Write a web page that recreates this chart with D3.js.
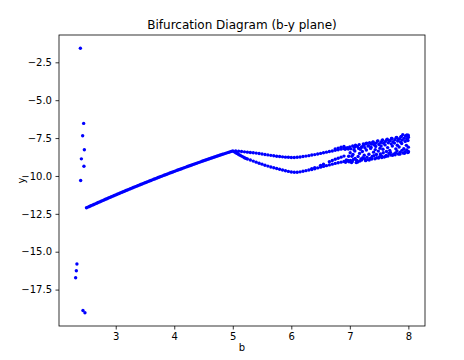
<!DOCTYPE html>
<html><head><meta charset="utf-8">
<script src="https://cdn.jsdelivr.net/npm/d3@7"></script>
<style>
html,body{margin:0;padding:0;background:#fff;}
svg{display:block;font-family:"DejaVu Sans",sans-serif;}
</style></head>
<body>
<svg id="chart" width="464" height="360"></svg>
<script>
// ---- data ----
const titleText = "Bifurcation Diagram (b-y plane)";
const xLabel = "b";
const yLabel = "y";
const xTicks = [3, 4, 5, 6, 7, 8];
const yTicks = [-2.5, -5.0, -7.5, -10.0, -12.5, -15.0, -17.5];

// transient / isolated points near the start
const transientB = [2.396, 2.452, 2.435, 2.464, 2.413, 2.457, 2.401, 2.337, 2.327, 2.315, 2.440, 2.474];
const transientY = [-1.57, -6.53, -7.35, -8.27, -8.87, -9.36, -10.30, -15.81, -16.26, -16.72, -18.88, -19.03];

// single stable branch
const mainB = [2.500,2.525,2.550,2.575,2.600,2.625,2.650,2.675,2.700,2.725,2.750,2.775,2.800,2.825,2.850,2.875,2.900,2.925,2.950,2.975,
 3.000,3.025,3.050,3.075,3.100,3.125,3.150,3.175,3.200,3.225,3.250,3.275,3.300,3.325,3.350,3.375,3.400,3.425,3.450,3.475,
 3.500,3.525,3.550,3.575,3.600,3.625,3.650,3.675,3.700,3.725,3.750,3.775,3.800,3.825,3.850,3.875,3.900,3.925,3.950,3.975,
 4.000,4.025,4.050,4.075,4.100,4.125,4.150,4.175,4.200,4.225,4.250,4.275,4.300,4.325,4.350,4.375,4.400,4.425,4.450,4.475,
 4.500,4.525,4.550,4.575,4.600,4.625,4.650,4.675,4.700,4.725,4.750,4.775,4.800,4.825,4.850,4.875,4.900,4.925,4.950,4.975,5.000];
const mainY = [-12.100,-12.056,-12.013,-11.969,-11.926,-11.883,-11.840,-11.797,-11.754,-11.711,-11.669,-11.626,-11.584,-11.542,-11.500,-11.458,-11.416,-11.374,-11.333,-11.291,
 -11.250,-11.209,-11.168,-11.127,-11.086,-11.045,-11.005,-10.964,-10.924,-10.884,-10.844,-10.804,-10.764,-10.724,-10.685,-10.645,-10.606,-10.567,-10.528,-10.489,
 -10.450,-10.411,-10.373,-10.334,-10.296,-10.258,-10.220,-10.182,-10.144,-10.106,-10.069,-10.031,-9.994,-9.957,-9.920,-9.883,-9.846,-9.809,-9.773,-9.736,
 -9.700,-9.664,-9.628,-9.592,-9.556,-9.520,-9.485,-9.449,-9.414,-9.379,-9.344,-9.309,-9.274,-9.239,-9.205,-9.170,-9.136,-9.102,-9.068,-9.034,
 -9.000,-8.966,-8.933,-8.899,-8.866,-8.833,-8.800,-8.767,-8.734,-8.701,-8.669,-8.636,-8.604,-8.572,-8.540,-8.508,-8.476,-8.444,-8.413,-8.381,-8.350];

// period-2 branches
const splitB = [5.05,5.10,5.15,5.20,5.25,5.30,5.35,5.40,5.45,5.50,5.55,5.60,5.65,5.70,5.75,5.80,5.85,5.90,5.95,6.00,6.05,6.10,6.15,6.20,6.25,6.30,6.35,6.40,6.45,6.50,6.55,6.60,6.65,6.70,6.75,6.80,6.85,6.90];
const upperY = [-8.35,-8.37,-8.39,-8.41,-8.43,-8.45,-8.47,-8.49,-8.52,-8.55,-8.58,-8.61,-8.64,-8.67,-8.70,-8.72,-8.74,-8.76,-8.77,-8.78,-8.78,-8.77,-8.75,-8.72,-8.69,-8.66,-8.62,-8.59,-8.55,-8.51,-8.47,-8.43,-8.39,-8.35,-8.31,-8.27,-8.23,-8.19];
const lowerY = [-8.47,-8.58,-8.69,-8.80,-8.88,-8.95,-9.02,-9.09,-9.16,-9.22,-9.29,-9.35,-9.41,-9.46,-9.51,-9.56,-9.61,-9.66,-9.70,-9.74,-9.76,-9.76,-9.73,-9.69,-9.65,-9.61,-9.57,-9.52,-9.47,-9.42,-9.37,-9.32,-9.27,-9.22,-9.17,-9.13,-9.09,-9.05];

// extra points on the lower branch where it falls steeply
const tipB = [5.025, 5.075, 5.125, 5.175, 5.225];
const tipY = [-8.41, -8.52, -8.63, -8.74, -8.84];

// secondary split points
const split2B = [6.35,6.40,6.50,6.55,6.65,6.70,6.75,6.80,6.85,6.90,6.75,6.80,6.85,6.90];
const split2Y = [-9.52,-9.45,-9.30,-9.22,-9.06,-8.98,-8.90,-8.83,-8.76,-8.69,-8.22,-8.16,-8.10,-8.05];

// chaotic region
const chaosB = [
 6.920,6.933,6.947,6.927,6.940,
 6.960,6.973,6.987,6.967,6.980,
 7.000,7.017,7.006,7.029,7.011,7.035,
 7.049,7.071,7.042,7.061,7.054,
 7.080,7.097,7.086,7.109,7.091,7.115,
 7.129,7.151,7.122,7.141,7.134,
 7.160,7.177,7.166,7.189,7.171,7.195,
 7.209,7.231,7.202,7.221,7.214,
 7.240,7.257,7.246,7.269,7.251,7.275,
 7.289,7.311,7.282,7.301,7.294,
 7.320,7.337,7.326,7.349,7.331,7.355,
 7.369,7.391,7.362,7.381,7.374,
 7.400,7.417,7.406,7.429,7.411,7.435,7.423,
 7.449,7.471,7.442,7.461,7.454,
 7.480,7.497,7.486,7.509,7.491,7.515,
 7.529,7.551,7.522,7.541,7.534,7.546,
 7.560,7.577,7.566,7.589,7.571,
 7.609,7.631,7.602,7.621,7.614,7.626,
 7.640,7.657,7.646,7.669,7.651,7.675,
 7.689,7.711,7.682,7.701,7.694,7.706,
 7.720,7.737,7.726,7.749,7.731,
 7.769,7.791,7.762,7.781,7.774,7.786,
 7.800,7.817,7.806,7.829,7.811,7.835,
 7.849,7.871,7.842,7.861,7.854,7.866,
 7.880,7.897,7.886,7.909,7.891,
 7.929,7.951,7.922,7.941,7.934,7.946,
 7.960,7.977,7.966,7.989,7.971,7.995,
 8.000,7.998,7.993,8.000,7.997,8.000,
 7.905,7.975
];
const chaosY = [
 -8.24,-8.17,-9.02,-9.10,-8.95,
 -8.13,-8.22,-9.07,-8.97,-8.70,
 -8.08,-8.21,-8.47,-9.11,-8.98,-8.70,
 -8.02,-8.27,-9.05,-8.91,-8.58,
 -8.11,-7.97,-8.36,-9.12,-8.84,-8.97,
 -8.05,-8.18,-8.99,-8.72,-9.08,
 -7.93,-8.24,-8.51,-8.88,-9.02,-8.12,
 -8.07,-7.89,-8.95,-8.80,-8.39,
 -7.97,-8.14,-8.63,-8.99,-8.86,-7.86,
 -7.84,-8.03,-8.29,-8.92,-8.76,
 -8.00,-7.81,-8.57,-8.84,-8.95,-8.18,
 -7.90,-7.77,-8.10,-8.71,-8.88,
 -7.76,-7.95,-8.43,-8.86,-8.66,-8.26,-7.88,
 -7.83,-7.70,-8.05,-8.80,-8.58,
 -7.69,-7.92,-8.36,-8.73,-8.82,-8.17,
 -7.79,-7.66,-8.55,-8.68,-8.02,-8.79,
 -7.63,-7.84,-8.24,-8.75,-8.47,
 -7.72,-7.60,-7.95,-8.64,-8.71,-8.39,
 -7.58,-7.81,-8.13,-8.52,-8.69,-7.68,
 -7.67,-7.53,-8.31,-8.62,-8.45,-7.88,
 -7.52,-7.74,-8.02,-8.57,-8.64,
 -7.61,-7.48,-7.83,-8.48,-8.60,-8.21,
 -7.46,-7.69,-8.35,-8.55,-7.97,-7.58,
 -7.55,-7.42,-8.09,-8.44,-8.56,-7.76,
 -7.40,-7.63,-7.86,-8.49,-8.31,
 -7.51,-7.37,-8.20,-8.40,-8.50,-7.72,
 -7.34,-7.57,-7.98,-8.46,-8.29,-7.45,
 -7.45,-7.31,-7.66,-8.38,-8.44,-8.10,
 -7.27,-7.29
];

// ---- build point list ----
const points = [];
transientB.forEach((b, i) => points.push([b, transientY[i]]));
mainB.forEach((b, i) => points.push([b, mainY[i]]));
splitB.forEach((b, i) => { points.push([b, upperY[i]]); points.push([b, lowerY[i]]); });
tipB.forEach((b, i) => points.push([b, tipY[i]]));
split2B.forEach((b, i) => points.push([b, split2Y[i]]));
chaosB.forEach((b, i) => points.push([b, chaosY[i]]));

// ---- layout ----
const svg = d3.select("#chart");
const W = 464, H = 360;
const margin = {left: 59, right: 39, top: 35, bottom: 34};
const iw = W - margin.left - margin.right;
const ih = H - margin.top - margin.bottom;

const xExt = d3.extent(points, d => d[0]);
const yExt = d3.extent(points, d => d[1]);
const xPad = (xExt[1] - xExt[0]) * 0.05;
const yPad = (yExt[1] - yExt[0]) * 0.05;

const x = d3.scaleLinear().domain([xExt[0] - xPad, xExt[1] + xPad]).range([0, iw]);
const y = d3.scaleLinear().domain([yExt[0] - yPad, yExt[1] + yPad]).range([ih, 0]);

const g = svg.append("g").attr("transform", `translate(${margin.left},${margin.top})`);

const fmtMinus = s => s.replace("-", "\u2212");

const xAxis = g.append("g").attr("transform", `translate(0,${ih})`)
  .call(d3.axisBottom(x).tickValues(xTicks).tickSize(3.5).tickPadding(3.5).tickFormat(d => fmtMinus(d3.format("d")(d))));
const yAxis = g.append("g")
  .call(d3.axisLeft(y).tickValues(yTicks).tickSize(3.5).tickPadding(3.5).tickFormat(d => fmtMinus(d3.format(".1f")(d))));

[xAxis, yAxis].forEach(a => {
  a.select(".domain").remove();
  a.selectAll(".tick line").attr("stroke", "#000").attr("stroke-width", 0.8);
  a.selectAll(".tick text").attr("fill", "#000").style("font-size", "10px").style("font-family", "DejaVu Sans");
});

// points
g.append("g").selectAll("circle").data(points).join("circle")
  .attr("cx", d => x(d[0])).attr("cy", d => y(d[1]))
  .attr("r", 1.7).attr("fill", "#0000ff");

// frame
g.append("rect").attr("x", 0).attr("y", 0).attr("width", iw).attr("height", ih)
  .attr("fill", "none").attr("stroke", "#000").attr("stroke-width", 0.8);

// title & labels
svg.append("text").attr("x", margin.left + iw / 2).attr("y", margin.top - 6)
  .attr("text-anchor", "middle").style("font-size", "12px").text(titleText);
svg.append("text").attr("x", margin.left + iw / 2).attr("y", 351)
  .attr("text-anchor", "middle").style("font-size", "10px").text(xLabel);
svg.append("text").attr("transform", `translate(25,${margin.top + ih / 2}) rotate(-90)`)
  .attr("text-anchor", "middle").style("font-size", "10px").text(yLabel);
</script>
</body></html>
